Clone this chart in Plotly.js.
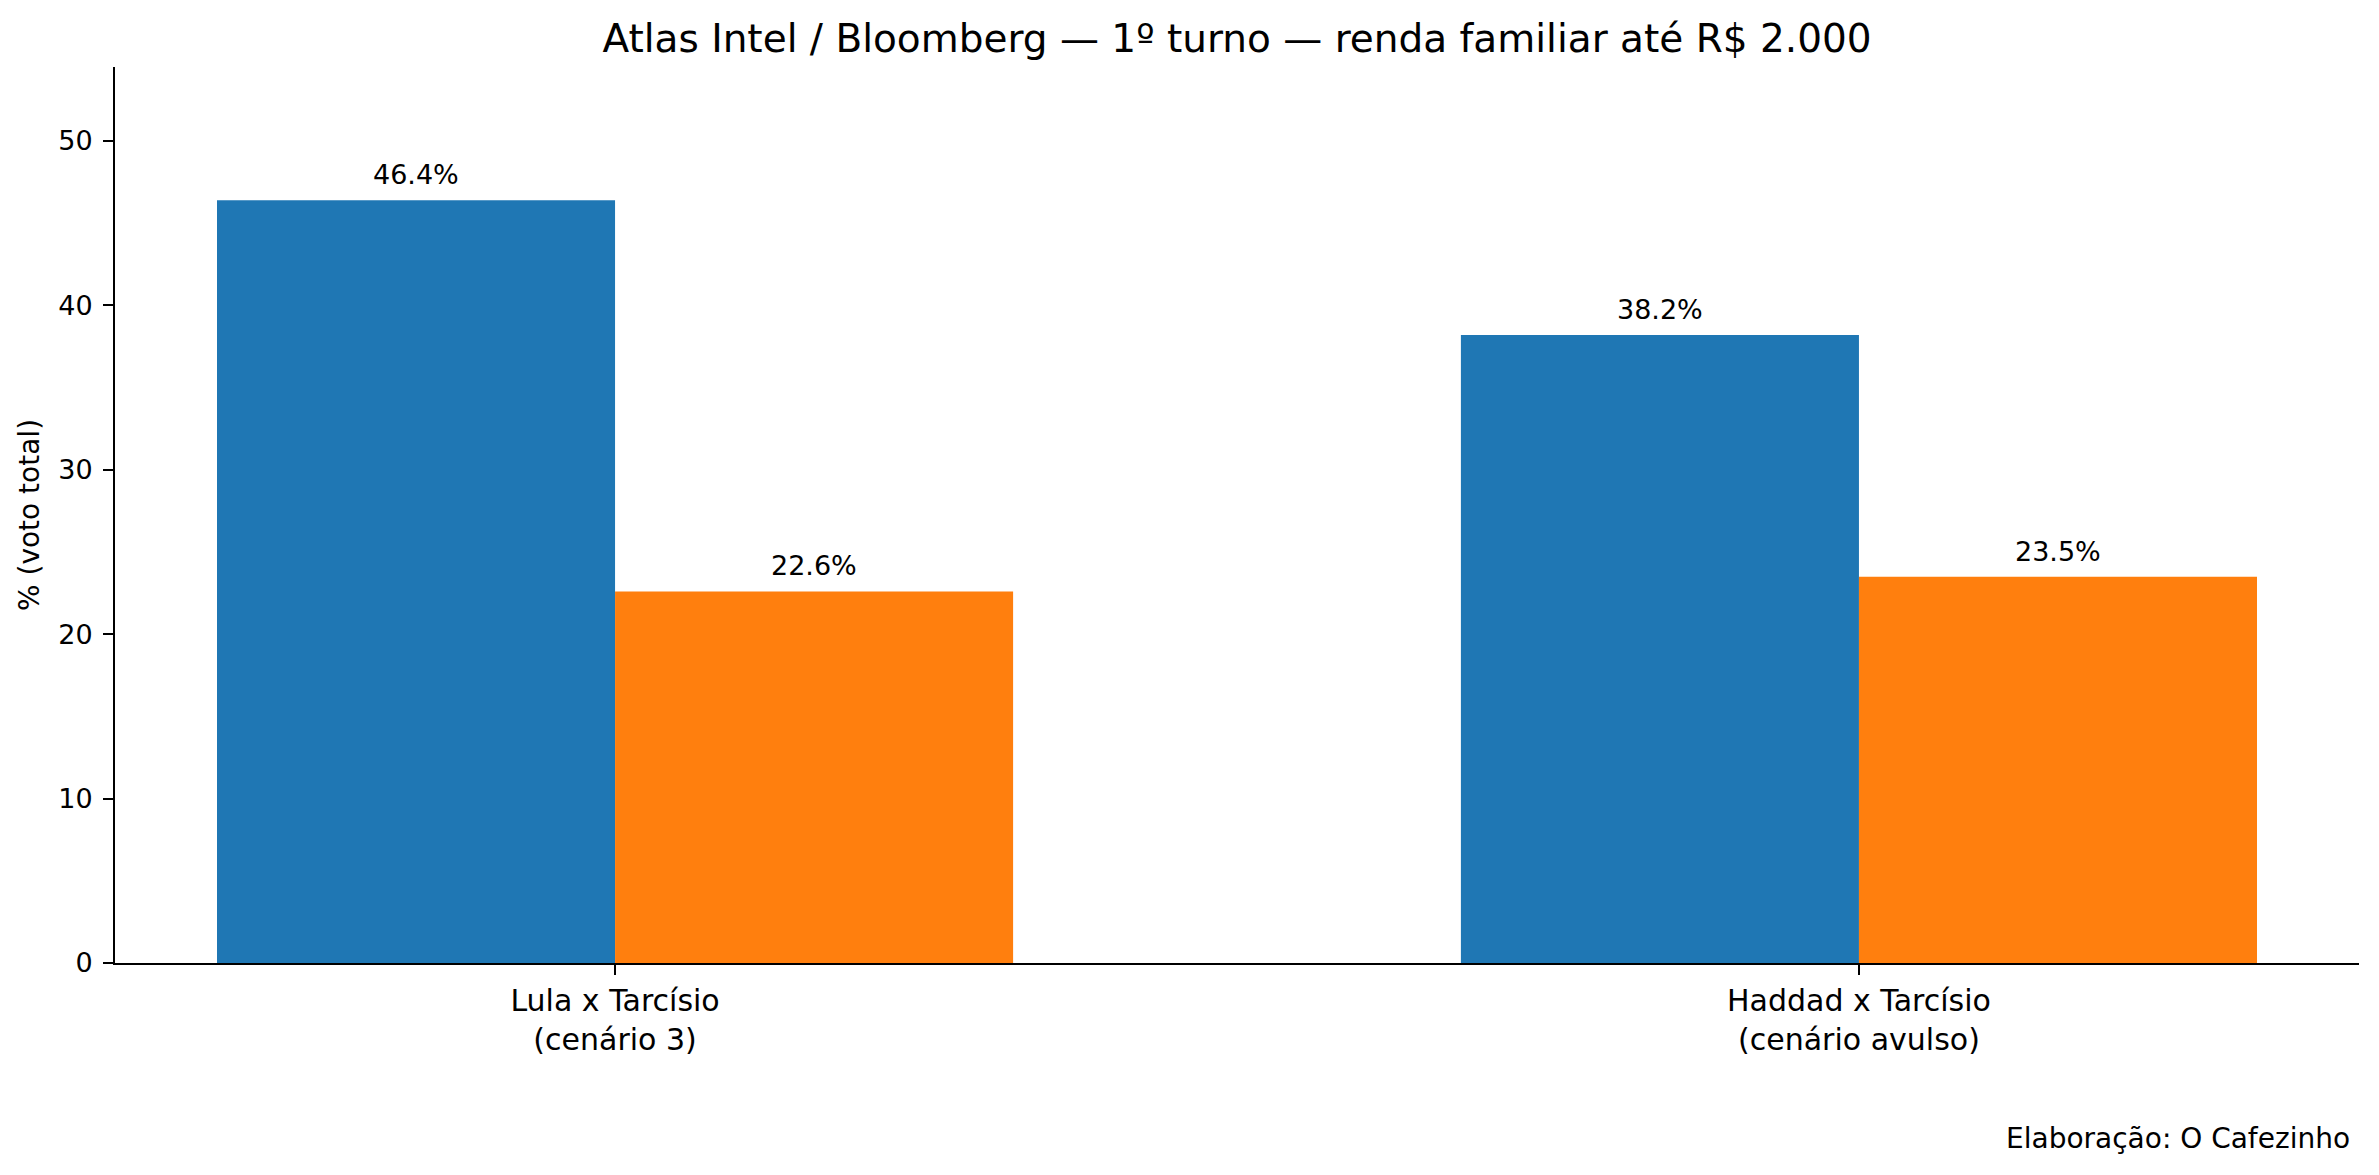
<!DOCTYPE html>
<html>
<head>
<meta charset="utf-8">
<script src="https://cdn.plot.ly/plotly-3.0.1.min.js"></script>
<style>html,body{margin:0;padding:0;background:#fff;}#chart{width:2379px;height:1175px;}</style>
</head>
<body>
<div id="chart"></div>
<script>
// ---- data ----
const categories = ["Lula x Tarcísio<br>(cenário 3)", "Haddad x Tarcísio<br>(cenário avulso)"];
const candidateValues = [46.4, 38.2];   // Lula / Haddad
const tarcisioValues = [22.6, 23.5];    // Tarcísio
const seriesNames = ["Candidato PT", "Tarcísio"];
const titleText = "Atlas Intel / Bloomberg — 1º turno — renda familiar até R$ 2.000";
const yTitle = "% (voto total)";
const footnote = "Elaboração: O Cafezinho";

// ---- chart ----
const FONT = "DejaVu Sans, sans-serif";
const idx = categories.map((_, i) => i);
const barW = 0.32;

const traces = [
  {type: "bar", x: idx, y: candidateValues, name: seriesNames[0],
   marker: {color: "#1f77b4", line: {width: 0}}, hoverinfo: "skip"},
  {type: "bar", x: idx, y: tarcisioValues, name: seriesNames[1],
   marker: {color: "#ff7f0e", line: {width: 0}}, hoverinfo: "skip"}
];

const annotations = [];
[candidateValues, tarcisioValues].forEach((vals, s) => {
  vals.forEach((v, i) => {
    annotations.push({
      x: i + (s === 0 ? -barW / 2 : barW / 2), y: v, xref: "x", yref: "y",
      text: v.toFixed(1) + "%", showarrow: false, yanchor: "bottom", yshift: 8,
      font: {family: FONT, size: 27, color: "#000"}
    });
  });
});
annotations.push({
  x: 1, y: -0.1964, xref: "paper", yref: "paper", xanchor: "right", yanchor: "middle",
  xshift: -7, text: footnote, showarrow: false,
  font: {family: FONT, size: 28, color: "#000"}
});

const layout = {
  width: 2379, height: 1175,
  margin: {l: 115, r: 20, t: 67, b: 212},
  paper_bgcolor: "#fff", plot_bgcolor: "#fff",
  font: {family: FONT, color: "#000"},
  showlegend: false,
  barmode: "group", bargap: 0.36, bargroupgap: 0,
  title: {text: titleText, font: {family: FONT, size: 39, color: "#000"},
          xref: "paper", x: 0.5, xanchor: "center", yref: "container", y: 1 - 38 / 1175, yanchor: "middle"},
  xaxis: {
    range: [-0.402, 1.402], tickmode: "array", tickvals: idx, ticktext: categories,
    showline: true, linecolor: "#000", linewidth: 2, ticks: "outside", ticklen: 10, tickwidth: 2, tickcolor: "#000",
    showgrid: false, zeroline: false, tickfont: {family: FONT, size: 30, color: "#000"}
  },
  yaxis: {
    range: [0, 54.5], tickmode: "linear", tick0: 0, dtick: 10,
    showline: true, linecolor: "#000", linewidth: 2, ticks: "outside", ticklen: 10, tickwidth: 2, tickcolor: "#000",
    showgrid: false, zeroline: false, tickfont: {family: FONT, size: 27, color: "#000"}, ticklabelstandoff: 5,
    title: {text: yTitle, font: {family: FONT, size: 28, color: "#000"}, standoff: 10},
    automargin: false
  },
  annotations: annotations
};

Plotly.newPlot("chart", traces, layout, {staticPlot: true, displayModeBar: false});
</script>
</body>
</html>
